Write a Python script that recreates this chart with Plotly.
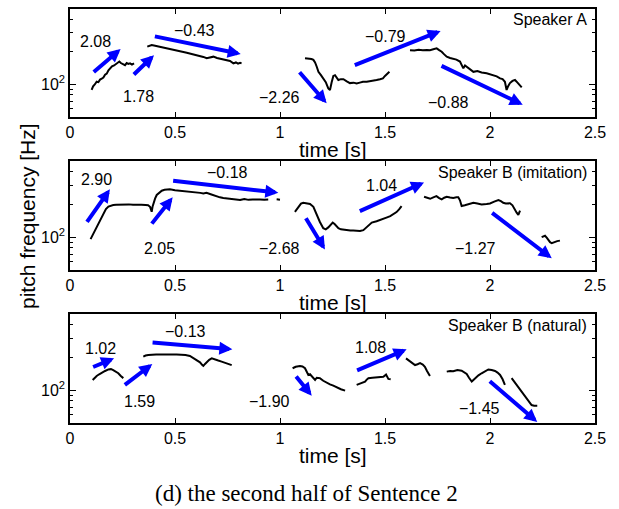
import math
import plotly.graph_objects as go

# ---------------------------------------------------------------------------
# Data
# ---------------------------------------------------------------------------
panel_names = ["Speaker A", "Speaker B (imitation)", "Speaker B (natural)"]

x_tick_vals = [0, 0.5, 1, 1.5, 2, 2.5]
x_tick_text = ["0", "0.5", "1", "1.5", "2", "2.5"]
y_tick_vals = [100]
y_tick_text = ["10<sup>2</sup>"]
y_minor_vals = [60, 70, 80, 90, 200, 300, 400]

# Pitch contours: voiced segments per panel, time [s] and F0 [Hz]
speaker_a_t = [
    [0.103, 0.110, 0.118, 0.127, 0.135, 0.143, 0.151, 0.159, 0.167, 0.175, 0.183, 0.190, 0.200,
     0.210, 0.220, 0.228, 0.235, 0.242, 0.250, 0.256, 0.262, 0.270, 0.278, 0.286, 0.295, 0.305],
    [0.368, 0.378, 0.389, 0.400, 0.420, 0.440, 0.460, 0.480, 0.500, 0.520, 0.540, 0.556, 0.575,
     0.595, 0.615, 0.635, 0.651, 0.668, 0.683, 0.700, 0.720, 0.746, 0.762, 0.778, 0.790, 0.800,
     0.810, 0.817],
    [1.119, 1.135, 1.150, 1.159, 1.167, 1.175, 1.183, 1.195, 1.206, 1.218, 1.230, 1.238, 1.246,
     1.254, 1.262, 1.270, 1.278, 1.290, 1.302, 1.318, 1.333, 1.350, 1.365, 1.380, 1.395, 1.413,
     1.430, 1.445, 1.460, 1.476, 1.490, 1.500, 1.510, 1.521],
    [1.619, 1.640, 1.660, 1.680, 1.700, 1.714, 1.730, 1.746, 1.758, 1.770, 1.782, 1.794, 1.810,
     1.825, 1.840, 1.857, 1.865, 1.873, 1.881, 1.889, 1.900, 1.921, 1.940, 1.960, 1.984, 2.000,
     2.016, 2.032, 2.048, 2.060, 2.071, 2.079, 2.087, 2.095, 2.107, 2.119, 2.131, 2.143, 2.151],
]
speaker_a_f = [
    [89, 96, 100, 106, 105, 111, 113, 116, 123, 126, 135, 141, 147,
     150, 155, 160, 163, 158, 156, 153, 151, 158, 155, 157, 153, 157],
    [224, 228, 232, 230, 226, 222, 216, 212, 208, 204, 200, 197, 193,
     190, 186, 180, 175, 178, 181, 176, 172, 169, 165, 157, 160, 156,
     159, 157],
    [175, 174, 172, 169, 160, 146, 131, 122, 114, 105, 92, 89, 105,
     120, 122, 116, 110, 112, 112, 107, 103, 104, 102, 104, 106, 106,
     107, 108, 110, 112, 114, 120, 126, 131],
    [208, 206, 210, 207, 209, 208, 212, 216, 208, 201, 190, 181, 176,
     173, 170, 163, 150, 141, 150, 146, 138, 131, 133, 129, 127, 124,
     122, 119, 114, 112, 106, 89, 97, 103, 108, 110, 104, 97, 94],
]

imitation_t = [
    [0.098, 0.105, 0.111, 0.123, 0.135, 0.147, 0.159, 0.171, 0.183, 0.195, 0.206, 0.220, 0.240,
     0.260, 0.280, 0.300, 0.320, 0.340, 0.360, 0.372, 0.381, 0.386, 0.389, 0.393, 0.397, 0.405,
     0.413, 0.425, 0.437, 0.450, 0.462, 0.476, 0.500, 0.520, 0.540, 0.556, 0.580, 0.600, 0.620,
     0.635, 0.650, 0.670, 0.690, 0.714, 0.730, 0.750, 0.770, 0.790, 0.810, 0.830, 0.850, 0.870,
     0.890, 0.905, 0.925, 0.944],
    [0.984, 1.000],
    [1.071, 1.080, 1.090, 1.100, 1.111, 1.127, 1.143, 1.159, 1.175, 1.190, 1.206, 1.218, 1.230,
     1.240, 1.251, 1.260, 1.270, 1.278, 1.290, 1.300, 1.317, 1.335, 1.349, 1.365, 1.381, 1.397,
     1.413, 1.425, 1.437, 1.460, 1.476, 1.492, 1.510, 1.525, 1.540, 1.555, 1.567, 1.579],
    [1.686, 1.700, 1.715, 1.730, 1.745, 1.758, 1.770, 1.782, 1.794, 1.810, 1.825, 1.840, 1.849,
     1.857, 1.865, 1.880, 1.895, 1.910, 1.921, 1.940, 1.960, 1.984, 2.000, 2.020, 2.040, 2.052,
     2.063, 2.075, 2.085, 2.095, 2.107, 2.119, 2.127, 2.135, 2.143],
    [2.246, 2.254, 2.262, 2.270, 2.278, 2.286, 2.294, 2.305, 2.320, 2.333],
]
imitation_f = [
    [96, 102, 109, 121, 134, 150, 166, 181, 191, 195, 197, 198, 199,
     197, 200, 198, 199, 198, 197, 196, 190, 180, 171, 190, 205, 226,
     244, 258, 267, 272, 274, 275, 270, 268, 265, 262, 260, 258, 255,
     252, 255, 248, 240, 232, 229, 226, 224, 221, 219, 224, 220, 222,
     220, 222, 221, 222],
    [223, 221],
    [171, 182, 195, 203, 207, 206, 202, 190, 160, 138, 121, 118, 123,
     130, 136, 132, 125, 121, 118, 117, 115, 115, 115, 114, 114, 116,
     123, 130, 136, 140, 143, 147, 152, 156, 163, 170, 180, 193],
    [235, 230, 225, 232, 238, 228, 222, 230, 235, 231, 229, 232, 232,
     218, 193, 196, 199, 202, 207, 204, 200, 202, 204, 212, 219, 214,
     207, 204, 206, 205, 196, 175, 168, 160, 175],
    [100, 102, 103, 99, 94, 90, 88, 90, 92, 93],
]

natural_t = [
    [0.108, 0.118, 0.127, 0.139, 0.151, 0.167, 0.183, 0.195, 0.206, 0.218, 0.230, 0.242, 0.254],
    [0.349, 0.360, 0.373, 0.390, 0.410, 0.429, 0.450, 0.470, 0.490, 0.508, 0.530, 0.550, 0.571,
     0.587, 0.603, 0.619, 0.630, 0.635, 0.643, 0.651, 0.663, 0.675, 0.690, 0.706, 0.722, 0.738,
     0.754, 0.770],
    [1.060, 1.075, 1.095, 1.107, 1.119, 1.127, 1.135, 1.143, 1.151, 1.159, 1.167, 1.175, 1.190,
     1.206, 1.222, 1.238, 1.254, 1.270, 1.290, 1.310],
    [1.365, 1.380, 1.393, 1.405, 1.413, 1.421, 1.440, 1.460, 1.476, 1.492, 1.505, 1.516, 1.527],
    [1.600, 1.610, 1.619, 1.630, 1.643, 1.655, 1.667, 1.680, 1.690, 1.700, 1.714],
    [1.794, 1.810, 1.825, 1.845, 1.865, 1.877, 1.889, 1.900, 1.913, 1.921, 1.929, 1.945, 1.960,
     1.976, 1.992, 2.008, 2.024, 2.036, 2.048, 2.060, 2.071],
    [2.103, 2.115, 2.127, 2.139, 2.151, 2.163, 2.175, 2.187, 2.198, 2.210, 2.225],
]
natural_f = [
    [124, 130, 135, 140, 145, 150, 155, 156, 153, 148, 143, 135, 129],
    [203, 208, 210, 212, 213, 213, 214, 213, 213, 213, 212, 210, 206,
     198, 189, 180, 170, 167, 174, 182, 190, 196, 190, 187, 183, 179,
     175, 170],
    [159, 164, 167, 165, 159, 148, 138, 140, 135, 128, 124, 130, 129,
     122, 117, 113, 110, 106, 102, 99],
    [112, 115, 118, 120, 125, 129, 130, 131, 131, 133, 139, 127, 126],
    [196, 189, 182, 175, 170, 173, 177, 172, 164, 150, 135],
    [148, 150, 149, 153, 151, 146, 141, 130, 120, 124, 129, 137, 143,
     150, 155, 153, 150, 145, 138, 126, 112],
    [129, 120, 112, 104, 97, 90, 84, 78, 73, 72, 72],
]

# Fitted slope arrows: tail/head as (time [s], F0 [Hz]) and the slope value
speaker_a_tail_t = [0.106, 0.297, 0.397, 1.087, 1.349, 1.762]
speaker_a_tail_f = [127, 120, 281, 134, 149, 151]
speaker_a_head_t = [0.241, 0.400, 0.813, 1.222, 1.765, 2.156]
speaker_a_head_f = [213, 187, 192, 67, 313, 65]
speaker_a_slopes = ["2.08", "1.78", "−0.43", "−2.26", "−0.79", "−0.88"]
speaker_a_label_t = [0.123, 0.325, 0.595, 0.997, 1.500, 1.801]
speaker_a_label_f = [249, 77, 315, 76, 281, 68]

imitation_tail_t = [0.076, 0.384, 0.484, 1.119, 1.373, 2.003]
imitation_tail_f = [134, 129, 330, 154, 171, 171]
imitation_head_t = [0.190, 0.489, 0.992, 1.214, 1.686, 2.294]
imitation_head_f = [275, 232, 256, 77, 318, 64]
imitation_slopes = ["2.90", "2.05", "−0.18", "−2.68", "1.04", "−1.27"]
imitation_label_t = [0.124, 0.424, 0.751, 0.997, 1.481, 1.933]
imitation_label_f = [335, 79, 391, 79, 301, 79]

natural_tail_t = [0.103, 0.254, 0.386, 1.071, 1.360, 1.992]
natural_tail_f = [161, 109, 275, 138, 150, 124]
natural_head_t = [0.210, 0.392, 0.773, 1.151, 1.603, 2.225]
natural_head_f = [196, 174, 237, 89, 237, 51]
natural_slopes = ["1.02", "1.59", "−0.13", "−1.90", "1.08", "−1.45"]
natural_label_t = [0.143, 0.329, 0.548, 0.949, 1.429, 1.952]
natural_label_f = [242, 78, 344, 78, 245, 68]

panels = [
    (speaker_a_t, speaker_a_f, speaker_a_tail_t, speaker_a_tail_f, speaker_a_head_t,
     speaker_a_head_f, speaker_a_slopes, speaker_a_label_t, speaker_a_label_f),
    (imitation_t, imitation_f, imitation_tail_t, imitation_tail_f, imitation_head_t,
     imitation_head_f, imitation_slopes, imitation_label_t, imitation_label_f),
    (natural_t, natural_f, natural_tail_t, natural_tail_f, natural_head_t,
     natural_head_f, natural_slopes, natural_label_t, natural_label_f),
]

# ---------------------------------------------------------------------------
# Figure
# ---------------------------------------------------------------------------
W, H = 619, 509
PLOT_L, PLOT_R = 70, 595          # horizontal extent of the axes boxes (px)
SANS = "Liberation Sans, Arial, Helvetica, sans-serif"
BLUE = "#0000ff"

# vertical pixel extents of the three axes boxes
box_px = [(9, 117), (161, 270), (314, 423)]


def paper_x(px):
    """Horizontal pixel position -> paper coordinate (relative to the plot area)."""
    return (px - PLOT_L) / (PLOT_R - PLOT_L)


def paper_y(py):
    return 1 - py / H


fig = go.Figure()
annotations = []

for i, (seg_t, seg_f, tt, tf, ht, hf, slopes, lt, lf) in enumerate(panels):
    n = "" if i == 0 else str(i + 1)
    xref, yref = "x" + n, "y" + n

    # join the voiced segments with gaps
    xs, ys = [], []
    for st, sf in zip(seg_t, seg_f):
        xs += st + [None]
        ys += sf + [None]
    fig.add_trace(go.Scatter(x=xs, y=ys, mode="lines", line=dict(color="black", width=2),
                             xaxis=xref, yaxis=yref, showlegend=False, hoverinfo="skip"))

    for k in range(len(slopes)):
        # slope arrow from tail to head (log axis -> log10 coordinates)
        annotations.append(dict(
            x=ht[k], y=math.log10(hf[k]), ax=tt[k], ay=math.log10(tf[k]),
            xref=xref, yref=yref, axref=xref, ayref=yref,
            showarrow=True, arrowhead=2, arrowsize=0.65, arrowwidth=4,
            arrowcolor=BLUE, text=""))
        annotations.append(dict(
            x=lt[k], y=math.log10(lf[k]), xref=xref, yref=yref, text=slopes[k],
            showarrow=False, font=dict(family=SANS, size=16, color="black")))

    top, bot = box_px[i]
    dom = [paper_y(bot), paper_y(top)]
    axis_common = dict(showline=True, linecolor="black", linewidth=1.5, mirror="ticks",
                       ticks="inside", tickcolor="black", showgrid=False, zeroline=False,
                       tickfont=dict(family=SANS, size=16, color="black"))
    fig.update_layout(**{
        "xaxis" + n: dict(axis_common, range=[0, 2.5], tickvals=x_tick_vals, ticktext=x_tick_text,
                          ticklen=5, tickwidth=1, anchor=yref, domain=[0, 1]),
        "yaxis" + n: dict(axis_common, type="log", range=[math.log10(50), math.log10(500)],
                          tickvals=y_tick_vals, ticktext=y_tick_text, ticklen=6, tickwidth=1,
                          anchor=xref, domain=dom,
                          minor=dict(tickvals=y_minor_vals, ticks="inside", ticklen=3,
                                     tickcolor="black", tickwidth=1, showgrid=False)),
    })

    # speaker name in the upper right corner
    annotations.append(dict(
        x=paper_x(589), y=paper_y(top + 11), xref="paper", yref="paper", xanchor="right",
        yanchor="middle", text=panel_names[i], showarrow=False,
        font=dict(family=SANS, size=16, color="black")))
    # x-axis title
    annotations.append(dict(
        x=0.5, y=paper_y(bot + 32), xref="paper", yref="paper", xanchor="center",
        yanchor="middle", text="time [s]", showarrow=False,
        font=dict(family=SANS, size=21, color="black")))

# shared y-axis title
annotations.append(dict(
    x=paper_x(28), y=paper_y(216), xref="paper", yref="paper",
    xanchor="center", yanchor="middle",
    text="pitch frequency [Hz]", textangle=-90, showarrow=False,
    font=dict(family=SANS, size=21, color="black")))
# caption
annotations.append(dict(
    x=paper_x(306), y=paper_y(493), xref="paper", yref="paper",
    xanchor="center", yanchor="middle",
    text="(d) the second half of Sentence 2", showarrow=False,
    font=dict(family="Liberation Serif, Times New Roman, serif", size=23, color="black")))

fig.update_layout(
    width=W, height=H, autosize=False,
    margin=dict(l=PLOT_L, r=W - PLOT_R, t=0, b=0),
    paper_bgcolor="white", plot_bgcolor="white",
    annotations=annotations,
)

fig.write_html("out.html")
